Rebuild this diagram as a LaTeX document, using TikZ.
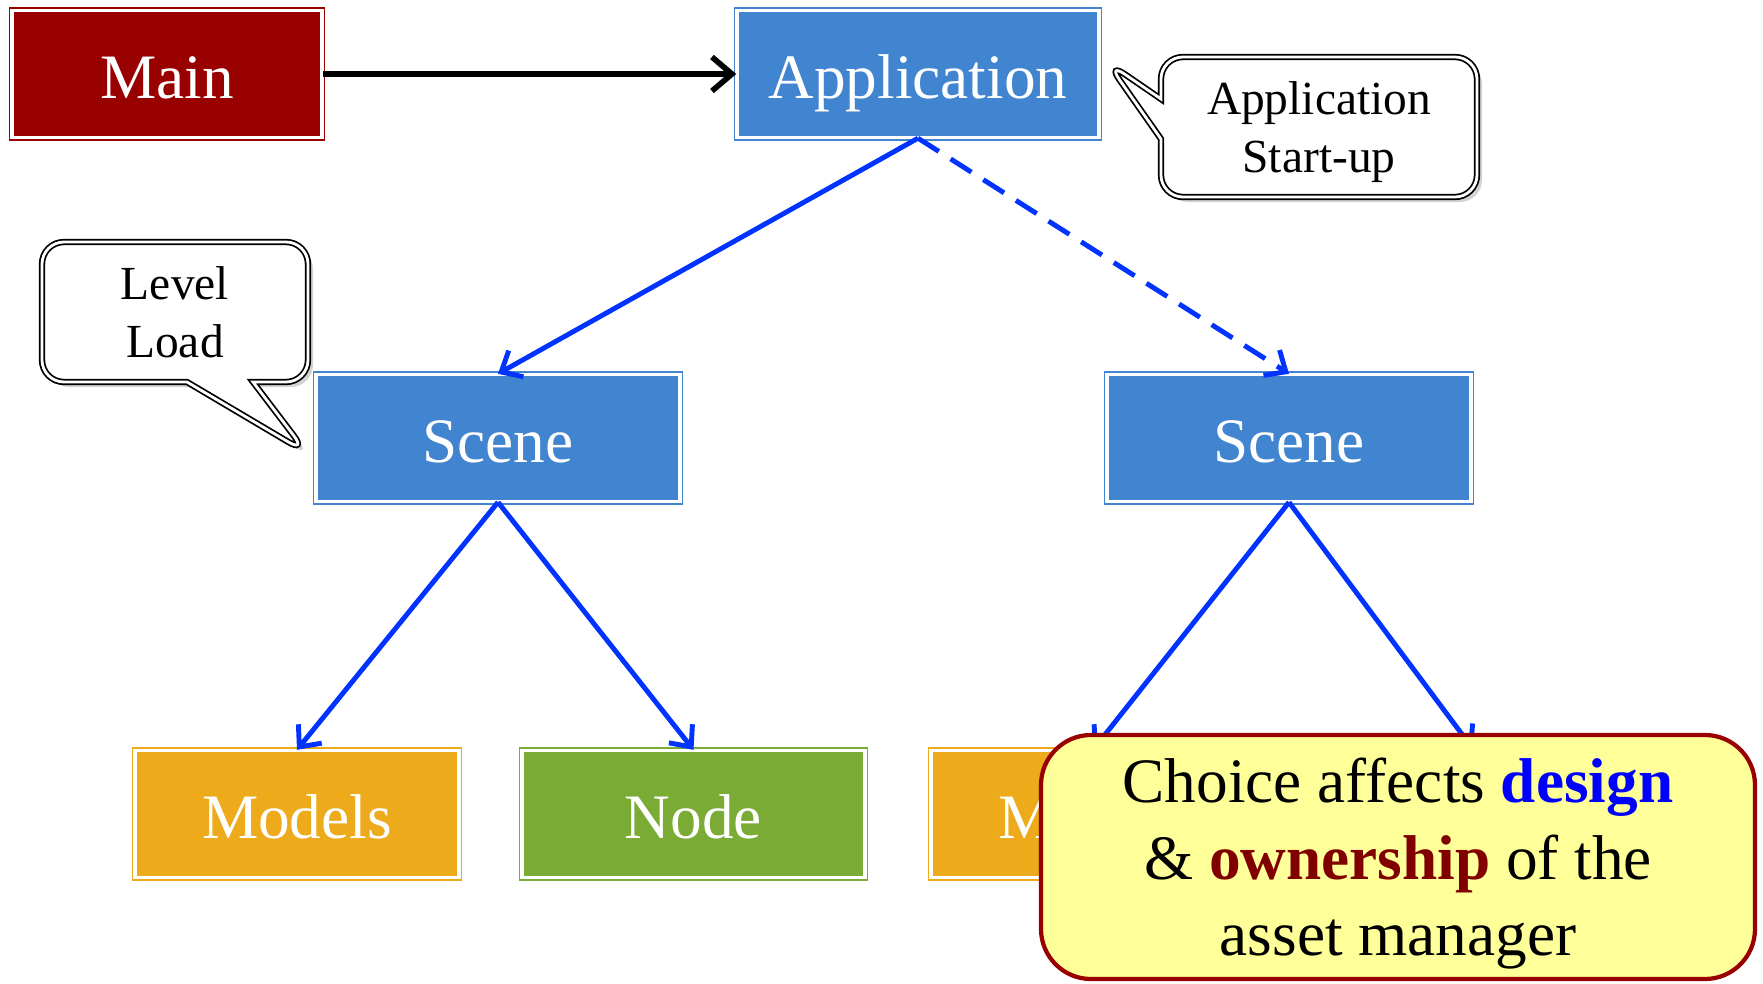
\documentclass[tikz,border=0pt]{standalone}
\usepackage{fontspec}
\setmainfont{Liberation Serif}
\usepackage{tikz}
\usetikzlibrary{arrows.meta,positioning,shapes.callouts,shadows}
\usepackage{xcolor}

\definecolor{mainred}{RGB}{153,0,0}
\definecolor{sceneblue}{RGB}{65,132,208}
\definecolor{modelorange}{RGB}{237,170,26}
\definecolor{nodegreen}{RGB}{122,171,53}
\definecolor{linkblue}{RGB}{0,51,255}
\definecolor{noteyellow}{RGB}{255,255,153}
\definecolor{ownred}{RGB}{128,0,0}

\begin{document}
\begin{tikzpicture}[
    box/.style={draw=#1, fill=#1, double=white, double distance=1pt, line width=0.4pt,
      minimum height=1.27cm, inner sep=0pt, text=white, text height=0.6cm, text depth=0.12cm,
      font=\fontsize{18}{22}\selectfont},
    note/.style={rectangle callout, draw=black, double=white, double distance=0.8pt,
      line width=0.5pt, fill=white, rounded corners=0.22cm, align=center, text depth=0pt,
      minimum height=1.4cm, font=\fontsize{13.5}{16.5}\selectfont,
      drop shadow={opacity=0.35, shadow xshift=0.05cm, shadow yshift=-0.05cm}},
    link/.style={linkblue, line width=1.4pt, -{Straight Barb[length=0.17cm, width=0.3cm]}}
  ]
    \useasboundingbox (0,0) rectangle (17.63,9.83);

    % Top row
    \node[box=mainred, minimum width=3.1cm] (main) at (1.67,9.09) {Main};
    \node[box=sceneblue, minimum width=3.62cm] (app) at (9.18,9.09) {Application};

    % Scenes
    \node[box=sceneblue, minimum width=3.64cm] (sceneL) at (4.98,5.45) {Scene};
    \node[box=sceneblue, minimum width=3.64cm] (sceneR) at (12.89,5.45) {Scene};

    % Bottom row (the right hand Node sits under the remark)
    \node[box=modelorange, minimum width=3.24cm] (modelsL) at (2.97,1.69) {Models};
    \node[box=nodegreen, minimum width=3.43cm] (nodeL) at (6.935,1.69) {Node};
    \node[box=modelorange, minimum width=3.24cm] (modelsR) at (10.93,1.69) {Models};
    \coordinate (nodeR) at (14.73,2.34);

    % Arrows
    \draw[line width=1.6pt, -{Straight Barb[length=0.2cm, width=0.34cm]}] (main) -- (app);
    \draw[link] (app.south) -- (sceneL.north);
    \draw[link, dash pattern=on 7pt off 4pt] (app.south) -- (sceneR.north);
    \draw[link] (sceneL.south) -- (modelsL.north);
    \draw[link] (sceneL.south) -- (nodeL.north);
    \draw[link] (sceneR.south) -- (modelsR.north);
    \draw[link] (sceneR.south) -- (nodeR);

    % Callouts
    \node[note, minimum width=3.16cm, callout pointer width=0.4cm,
      callout absolute pointer={(11.07,9.21)}] (startup) at (13.19,8.56) {Application\\Start-up};
    \node[note, minimum width=2.66cm, callout pointer width=0.66cm,
      callout absolute pointer={(3.07,5.30)}] (levelload) at (1.75,6.71) {Level\\Load};

    % Remark
    \node[draw=mainred, fill=noteyellow, line width=1.2pt, rounded corners=0.5cm,
      minimum width=7.14cm, minimum height=2.44cm, align=center, text depth=-0.08cm,
      font=\fontsize{18}{21.8}\selectfont] (choice) at (13.98,1.26)
      {Choice affects \textcolor{blue}{\textbf{design}}\\
       \& \textcolor{ownred}{\textbf{ownership}} of the\\
       asset manager};
  \end{tikzpicture}
\end{document}
